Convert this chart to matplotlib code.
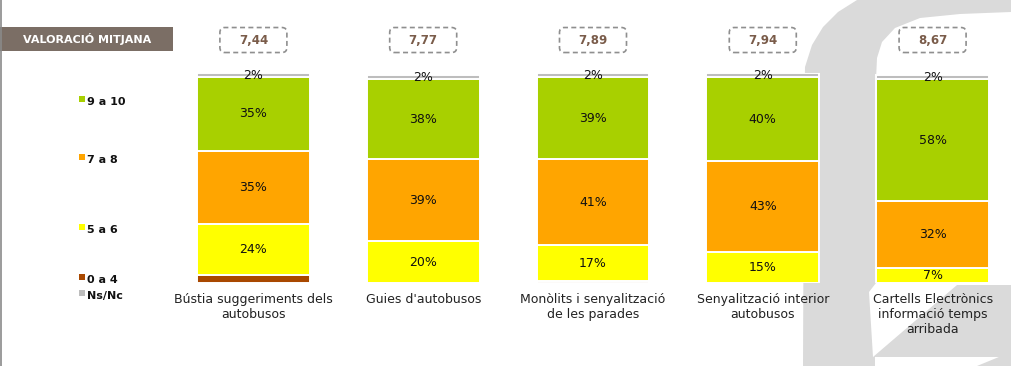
import matplotlib
matplotlib.use("Agg")
import matplotlib.pyplot as plt
import matplotlib.transforms as mtransforms
from matplotlib.patches import Polygon, Rectangle, FancyBboxPatch
import numpy as np

# data
categories = ["Bústia suggeriments dels\nautobusos", "Guies d'autobusos",
              "Monòlits i senyalització\nde les parades", "Senyalització interior\nautobusos",
              "Cartells Electrònics\ninformació temps\narribada"]
means = ["7,44", "7,77", "7,89", "7,94", "8,67"]
v0_4 = [4, 0, 1, 0, 0]
v5_6 = [24, 20, 17, 15, 7]
v7_8 = [35, 39, 41, 43, 32]
v9_10 = [35, 38, 39, 40, 58]
ns_nc = [2, 2, 2, 2, 2]

series = [("0 a 4", v0_4, "#a94800"), ("5 a 6", v5_6, "#ffff00"),
          ("7 a 8", v7_8, "#ffa500"), ("9 a 10", v9_10, "#a8d000"),
          ("Ns/Nc", ns_nc, "#bdbdbd")]
legend_order = ["9 a 10", "7 a 8", "5 a 6", "0 a 4", "Ns/Nc"]
legend_ypx = [102, 160, 230, 280, 296]

W, H = 1011, 366
def fx(x): return x / W
def fy(y): return 1 - y / H

plt.rcParams["font.family"] = ["DejaVu Sans"]
fig = plt.figure(figsize=(W / 100, H / 100), dpi=100)

# light grey watermark shape on the right
logo = [(803, 366), (804, 120), (805, 67), (812, 45), (823, 27), (838, 12), (857, 0),
        (1011, 0), (1011, 12), (960, 14), (920, 18), (895, 28), (882, 42), (877, 58),
        (876, 80), (876, 283), (869, 292), (873, 357), (957, 285), (1011, 285),
        (1011, 357), (875, 357), (875, 366)]
fig.add_artist(Polygon([(fx(a), fy(b)) for a, b in logo], closed=True,
                       transform=fig.transFigure, fc="#dadada", ec="none", zorder=-5))
fig.add_artist(Polygon([(fx(977), fy(366)), (fx(1011), fy(352)), (fx(1011), fy(366))],
                       closed=True, transform=fig.transFigure, fc="#dadada", ec="none", zorder=-5))

# left edge line and title box
fig.add_artist(plt.Line2D([fx(0.6), fx(0.6)], [0, 1], transform=fig.transFigure,
                          color="#8a8a8a", lw=1.2))
fig.add_artist(Rectangle((0, fy(51)), fx(173), fy(27) - fy(51), transform=fig.transFigure,
                         fc="#7b6e65", ec="none"))
fig.text(fx(87), fy(39), "VALORACIÓ MITJANA", color="white", fontsize=8,
         fontweight="bold", ha="center", va="center")

ax = fig.add_axes([fx(168.5), fy(283), 832 / W, 210 / H])
ax.patch.set_visible(False)
x = np.arange(len(categories))
bottom = np.zeros(len(categories))
for name, vals, col in series:
    bars = ax.bar(x, vals, 0.665, bottom=bottom, color=col, edgecolor="white",
                  linewidth=1.4, label=name)
    bottom += np.array(vals)
    if name != "0 a 4":
        ax.bar_label(bars, labels=[f"{v}%" if v else "" for v in vals],
                     label_type="center", fontsize=9, color="#111111")

ax.set_xlim(-0.5, 4.4)
ax.set_ylim(0, 100)
ax.set_yticks([])
ax.set_xticks(x, categories, fontsize=9, color="#222222")
ax.tick_params(axis="x", length=0, pad=7)
for s in ax.spines.values():
    s.set_visible(False)

# mean score boxes
blend = mtransforms.blended_transform_factory(ax.transData, ax.transAxes)
for xi, m in zip(x, means):
    tr = fig.dpi_scale_trans + mtransforms.ScaledTranslation(xi, 1.157, blend)
    fig.add_artist(FancyBboxPatch((-0.335, -0.125), 0.67, 0.25,
                                  boxstyle="round,pad=0,rounding_size=0.05",
                                  transform=tr, fc="none", ec="#8f8f8f",
                                  ls=(0, (3, 2)), lw=1.2))
    ax.text(xi, 1.157, m, transform=blend, ha="center", va="center", fontsize=8.5,
            fontweight="bold", color="#7a5c4a", clip_on=False)

# legend on the left
colors = {name: col for name, _, col in series}
for name, ypx in zip(legend_order, legend_ypx):
    fig.add_artist(Rectangle((fx(79), fy(ypx - 0)), fx(6), fy(ypx - 6) - fy(ypx),
                             transform=fig.transFigure, fc=colors[name], ec="none"))
    fig.text(fx(87), fy(ypx), name, fontsize=8, fontweight="bold", color="#111111",
             ha="left", va="center")

fig.savefig("out.png", dpi=100)
